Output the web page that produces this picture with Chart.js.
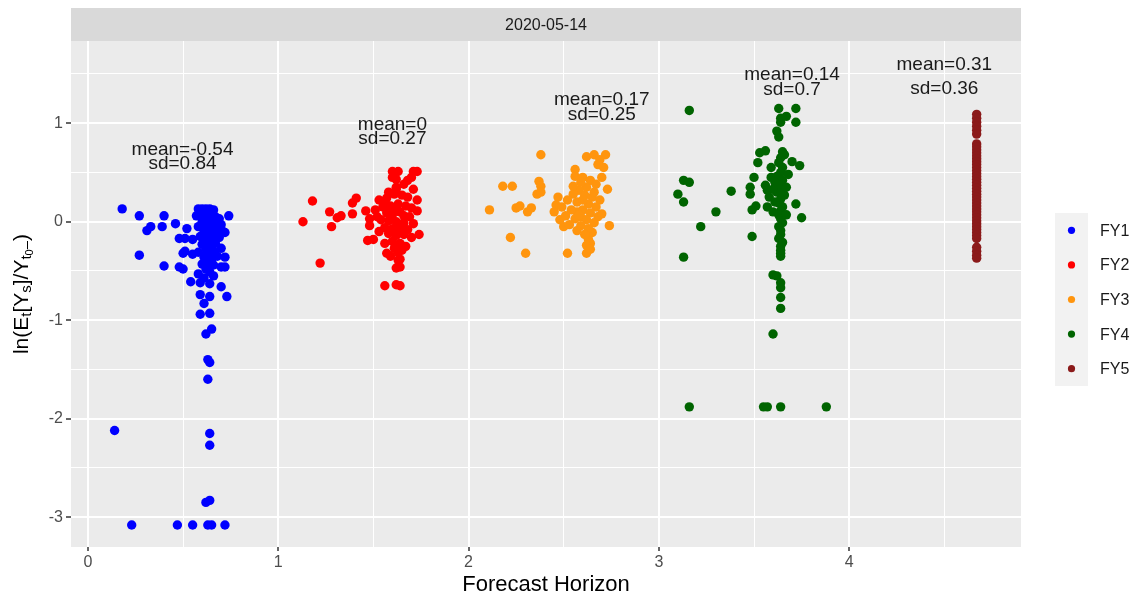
<!DOCTYPE html>
<html>
<head>
<meta charset="utf-8">
<script src="https://cdn.jsdelivr.net/npm/chart.js@4"></script>
<style>
html, body { margin: 0; padding: 0; background: #fff; }
</style>
</head>
<body>
<canvas id="chart" width="1137" height="598"></canvas>
<script>
// facet label and series names
var stripLabel = "2020-05-14";
var seriesNames = ["FY1", "FY2", "FY3", "FY4", "FY5"];
var seriesColors = ["#0000ff", "#ff0000", "#ff950e", "#006400", "#8b1a1a"];

// points: [forecast horizon, ln ratio]
var fy1Points = [
    [0.18,0.13],[0.27,0.06],[0.31,-0.09],[0.33,-0.05],[0.27,-0.34],[0.40,0.06],[0.39,-0.05],[0.46,-0.02],
    [0.40,-0.45],[0.48,-0.17],[0.50,-0.32],[0.48,-0.46],[0.52,-0.07],[0.51,-0.17],[0.55,-0.18],[0.51,-0.30],
    [0.55,-0.33],[0.50,-0.48],[0.74,0.06],[0.72,-0.11],[0.72,-0.36],[0.72,-0.46],
    [0.54,-0.61],[0.59,-0.62],[0.64,-0.63],[0.70,-0.66],[0.59,-0.74],[0.64,-0.76],[0.73,-0.76],[0.61,-0.83],
    [0.59,-0.94],[0.64,-0.93],[0.62,-1.14],[0.65,-1.09],[0.63,-1.40],[0.64,-1.43],[0.63,-1.60],[0.14,-2.12],
    [0.64,-2.15],[0.64,-2.27],[0.62,-2.85],[0.64,-2.83],[0.23,-3.08],[0.47,-3.08],[0.55,-3.08],[0.63,-3.08],
    [0.65,-3.08],[0.72,-3.08],
    [0.58,0.13],[0.60,0.13],[0.62,0.13],[0.64,0.13],[0.66,0.12],[0.59,0.10],[0.63,0.10],[0.65,0.08],
    [0.57,0.06],[0.61,0.05],[0.67,0.05],[0.69,0.03],[0.63,0.02],[0.60,0.00],[0.66,-0.01],[0.70,-0.03],
    [0.62,-0.04],[0.58,-0.05],[0.64,-0.07],[0.68,-0.08],[0.71,-0.10],[0.61,-0.10],[0.66,-0.12],[0.63,-0.14],
    [0.59,-0.15],[0.69,-0.16],[0.65,-0.18],[0.62,-0.20],[0.67,-0.22],[0.60,-0.23],[0.64,-0.25],[0.70,-0.27],
    [0.62,-0.28],[0.66,-0.30],[0.58,-0.31],[0.63,-0.33],[0.68,-0.35],[0.61,-0.36],[0.65,-0.38],[0.63,-0.41],
    [0.60,-0.43],[0.66,-0.44],[0.70,-0.46],[0.62,-0.48],[0.64,-0.51],[0.58,-0.53],[0.66,-0.55],[0.61,-0.57],
    [0.63,-0.20],[0.64,-0.45]
];
var fy2Points = [
    [1.13,0.00],[1.18,0.21],[1.22,-0.42],[1.27,0.10],[1.28,-0.05],[1.31,0.04],[1.33,0.06],[1.39,0.08],
    [1.39,0.19],[1.41,0.24],[1.46,0.11],[1.51,0.12],[1.48,0.03],[1.48,-0.04],[1.47,-0.19],[1.50,-0.18],
    [1.56,-0.22],[1.57,-0.32],[1.56,-0.65],[1.62,-0.64],[1.64,-0.65],[1.74,-0.13],[1.73,0.11],
    [1.60,0.51],[1.63,0.51],[1.71,0.51],[1.73,0.51],[1.62,0.43],[1.70,0.45],[1.62,0.35],[1.71,0.33],
    [1.53,0.22],[1.56,0.19],[1.63,-0.39],[1.64,-0.46],[1.62,-0.47],[1.63,-0.31],
    [1.58,0.30],[1.61,0.28],[1.65,0.27],[1.68,0.25],[1.55,0.15],[1.59,0.16],[1.63,0.18],[1.67,0.16],
    [1.70,0.14],[1.57,0.09],[1.60,0.07],[1.64,0.10],[1.66,0.06],[1.69,0.05],[1.54,0.02],[1.58,0.01],
    [1.62,0.00],[1.66,-0.01],[1.71,-0.02],[1.56,-0.06],[1.60,-0.07],[1.64,-0.05],[1.68,-0.08],[1.53,-0.10],
    [1.58,-0.12],[1.62,-0.14],[1.66,-0.13],[1.70,-0.16],[1.60,-0.20],[1.64,-0.22],[1.67,-0.25],[1.61,-0.27],
    [1.65,-0.29],[1.59,-0.35],[1.64,-0.38],[1.62,0.33],[1.66,0.38],[1.60,0.45],[1.68,0.42],[1.57,0.24],
    [1.73,0.22],[1.52,0.05],[1.63,-0.10],[1.61,0.12]
];
var fy3Points = [
    [2.11,0.12],[2.18,0.36],[2.23,0.36],[2.22,-0.16],[2.25,0.14],[2.27,0.16],[2.30,-0.32],[2.31,0.10],
    [2.33,0.14],[2.38,0.68],[2.37,0.41],[2.38,0.36],[2.36,0.28],[2.38,0.30],[2.46,0.17],[2.45,0.10],
    [2.50,-0.05],[2.48,0.02],[2.52,-0.32],[2.62,-0.32],[2.63,-0.18],[2.64,-0.22],[2.74,-0.04],[2.73,0.33],
    [2.62,0.66],[2.66,0.68],[2.72,0.68],[2.69,0.63],[2.71,0.55],[2.56,0.53],[2.56,0.46],[2.68,0.05],
    [2.57,0.10],[2.59,0.05],[2.65,-0.11],
    [2.60,0.45],[2.64,0.42],[2.67,0.38],[2.62,0.35],[2.58,0.32],[2.55,0.28],[2.61,0.27],[2.65,0.25],
    [2.69,0.22],[2.52,0.22],[2.57,0.20],[2.63,0.18],[2.67,0.15],[2.49,0.15],[2.54,0.12],[2.60,0.12],
    [2.64,0.09],[2.70,0.08],[2.51,0.06],[2.56,0.03],[2.62,0.02],[2.66,-0.01],[2.53,-0.03],[2.59,-0.04],
    [2.63,-0.07],[2.57,-0.09],[2.61,-0.13],[2.66,0.30],[2.70,0.45],[2.68,0.58],[2.59,0.40],[2.47,0.25],
    [2.55,0.36],[2.62,-0.24],[2.64,-0.28],[2.60,0.22],[2.58,0.07]
];
var fy4Points = [
    [3.16,1.13],[3.13,0.42],[3.16,0.40],[3.10,0.28],[3.13,0.20],[3.13,-0.36],[3.22,-0.05],[3.30,0.10],
    [3.38,0.31],[3.49,-0.15],[3.48,0.35],[3.48,0.28],[3.49,0.12],[3.51,0.16],[3.50,0.45],[3.52,0.60],
    [3.53,0.70],[3.56,0.72],[3.57,0.15],[3.56,0.37],[3.57,0.32],[3.59,0.45],
    [3.63,1.15],[3.64,1.05],[3.64,1.01],[3.67,1.07],[3.72,1.15],[3.72,1.01],[3.62,0.92],[3.63,0.86],
    [3.65,0.71],[3.66,0.68],[3.70,0.61],[3.74,0.57],[3.72,0.18],[3.75,0.04],
    [3.64,-0.32],[3.64,-0.35],[3.60,-0.54],[3.62,-0.55],[3.64,-0.62],[3.64,-0.67],[3.64,-0.77],[3.64,-0.88],
    [3.60,-1.14],[3.16,-1.88],[3.55,-1.88],[3.57,-1.88],[3.64,-1.88],[3.88,-1.88],
    [3.64,0.65],[3.63,0.60],[3.65,0.55],[3.64,0.50],[3.62,0.46],[3.65,0.42],[3.63,0.38],[3.64,0.34],
    [3.62,0.30],[3.66,0.27],[3.64,0.23],[3.63,0.19],[3.65,0.15],[3.64,0.11],[3.63,0.07],[3.64,0.03],
    [3.65,-0.01],[3.63,-0.05],[3.64,-0.09],[3.64,-0.13],[3.63,-0.17],[3.65,-0.21],[3.64,-0.25],[3.64,-0.29],
    [3.61,0.40],[3.60,0.33],[3.58,0.25],[3.61,0.20],[3.67,0.35],[3.68,0.48],[3.60,0.10],[3.67,0.07],
    [3.59,0.55]
];
var fy5Points = [
    [4.67,1.09],[4.67,1.05],[4.67,1.01],[4.67,0.97],[4.67,0.93],[4.67,0.89],[4.67,0.79],[4.67,0.76],
    [4.67,0.73],[4.67,0.70],[4.67,0.67],[4.67,0.64],[4.67,0.61],[4.67,0.58],[4.67,0.55],[4.67,0.52],
    [4.67,0.49],[4.67,0.46],[4.67,0.43],[4.67,0.40],[4.67,0.37],[4.67,0.34],[4.67,0.31],[4.67,0.28],
    [4.67,0.25],[4.67,0.22],[4.67,0.19],[4.67,0.16],[4.67,0.13],[4.67,0.10],[4.67,0.07],[4.67,0.04],
    [4.67,0.01],[4.67,-0.02],[4.67,-0.05],[4.67,-0.08],[4.67,-0.11],[4.67,-0.14],[4.67,-0.17],[4.67,-0.26],
    [4.67,-0.30],[4.67,-0.34],[4.67,-0.37]
];
var allPoints = [fy1Points, fy2Points, fy3Points, fy4Points, fy5Points];

// mean / sd text labels
var statMeans = ["-0.54", "0", "0.17", "0.14", "0.31"];
var statSds = ["0.84", "0.27", "0.25", "0.7", "0.36"];
var statX = [0.497, 1.60, 2.70, 3.70, 4.50];
var statMeanY = [0.728, 0.98, 1.236, 1.49, 1.59];
var statSdY = [0.586, 0.84, 1.083, 1.337, 1.347];

// ticks: majors get labels, halves are minor grid lines
var xTicks = [0, 0.5, 1, 1.5, 2, 2.5, 3, 3.5, 4, 4.5];
var yTicks = [-3, -2.5, -2, -1.5, -1, -0.5, 0, 0.5, 1, 1.5];

var FONT = '"Liberation Sans", Arial, sans-serif';
Chart.defaults.font.family = FONT;

function isMajor(v) {
    return Math.abs(v - Math.round(v)) < 1e-9;
}

var datasets = [];
for (var i = 0; i < allPoints.length; i++) {
    datasets.push({
        label: seriesNames[i],
        data: allPoints[i].map(function (p) { return { x: p[0], y: p[1] }; }),
        backgroundColor: seriesColors[i],
        pointRadius: 4.7,
        pointBorderWidth: 0,
        pointHoverRadius: 4.7
    });
}

function drawYTitle(ctx, cx, cy) {
    var parts = [["ln(E", 0], ["t", 1], ["[Y", 0], ["s", 1], ["]/Y", 0], ["t", 1], ["0", 2], ["\u2013", 1], [")", 0]];
    var sizes = [21, 15, 11];
    var shifts = [0, 5, 8];
    var total = 0, widths = [];
    for (var i = 0; i < parts.length; i++) {
        ctx.font = sizes[parts[i][1]] + "px " + FONT;
        var w = ctx.measureText(parts[i][0]).width;
        widths.push(w);
        total += w;
    }
    ctx.save();
    ctx.translate(cx, cy);
    ctx.rotate(-Math.PI / 2);
    ctx.fillStyle = "#000";
    ctx.textBaseline = "middle";
    ctx.textAlign = "left";
    var pos = -total / 2;
    for (var j = 0; j < parts.length; j++) {
        ctx.font = sizes[parts[j][1]] + "px " + FONT;
        ctx.fillText(parts[j][0], pos, shifts[parts[j][1]]);
        pos += widths[j];
    }
    ctx.restore();
}

var ggPlugin = {
    id: "gg",
    beforeDraw: function (chart) {
        var ctx = chart.ctx, a = chart.chartArea;
        ctx.save();
        ctx.fillStyle = "#ffffff";
        ctx.fillRect(0, 0, chart.width, chart.height);
        ctx.fillStyle = "#ebebeb";
        ctx.fillRect(a.left, a.top, a.right - a.left, a.bottom - a.top);
        ctx.fillStyle = "#d9d9d9";
        ctx.fillRect(a.left, 8, a.right - a.left, a.top - 8);
        ctx.fillStyle = "#1a1a1a";
        ctx.font = "16px " + FONT;
        ctx.textAlign = "center";
        ctx.textBaseline = "middle";
        ctx.fillText(stripLabel, (a.left + a.right) / 2, (8 + a.top) / 2 + 1);
        ctx.restore();
    },
    afterDatasetsDraw: function (chart) {
        var ctx = chart.ctx, sx = chart.scales.x, sy = chart.scales.y;
        ctx.save();
        ctx.fillStyle = "#1a1a1a";
        ctx.font = "19px " + FONT;
        ctx.textAlign = "center";
        ctx.textBaseline = "middle";
        for (var i = 0; i < statX.length; i++) {
            var px = sx.getPixelForValue(statX[i]);
            ctx.fillText("mean=" + statMeans[i], px, sy.getPixelForValue(statMeanY[i]));
            ctx.fillText("sd=" + statSds[i], px, sy.getPixelForValue(statSdY[i]));
        }
        ctx.restore();
    },
    afterDraw: function (chart) {
        var ctx = chart.ctx, a = chart.chartArea;
        // legend
        var keyLeft = 1055, keyTop = 213, keyStep = 34.6;
        ctx.save();
        ctx.fillStyle = "#f2f2f2";
        ctx.fillRect(keyLeft, keyTop, 33, keyStep * seriesNames.length);
        ctx.font = "16px " + FONT;
        ctx.textAlign = "left";
        ctx.textBaseline = "middle";
        for (var i = 0; i < seriesNames.length; i++) {
            var cy = keyTop + keyStep * (i + 0.5);
            ctx.fillStyle = seriesColors[i];
            ctx.beginPath();
            ctx.arc(keyLeft + 16.5, cy, 3.6, 0, Math.PI * 2);
            ctx.fill();
            ctx.fillStyle = "#1a1a1a";
            ctx.fillText(seriesNames[i], 1100, cy + 1);
        }
        ctx.restore();
        drawYTitle(ctx, 22, (a.top + a.bottom) / 2);
    }
};

function gridColor() { return "#ffffff"; }
function gridWidth(c) { return c.tick && isMajor(c.tick.value) ? 2 : 1; }
function tickMarkColor(c) { return c.tick && isMajor(c.tick.value) ? "#333333" : "rgba(0,0,0,0)"; }

var ctx = document.getElementById("chart").getContext("2d");
var myChart = new Chart(ctx, {
    type: "scatter",
    data: { datasets: datasets },
    plugins: [ggPlugin],
    options: {
        responsive: false,
        animation: false,
        layout: { padding: { left: 0, right: 116, top: 41, bottom: 0 } },
        plugins: {
            legend: { display: false },
            tooltip: { enabled: false },
            title: { display: false }
        },
        scales: {
            x: {
                type: "linear",
                min: -0.089,
                max: 4.903,
                afterBuildTicks: function (axis) {
                    axis.ticks = xTicks.map(function (v) { return { value: v }; });
                },
                afterFit: function (axis) { axis.height = 51; },
                border: { display: false },
                grid: {
                    color: gridColor,
                    lineWidth: gridWidth,
                    drawTicks: true,
                    tickLength: 4,
                    tickWidth: 1.5,
                    tickColor: tickMarkColor
                },
                ticks: {
                    color: "#4d4d4d",
                    font: { size: 16 },
                    padding: 2,
                    maxRotation: 0,
                    autoSkip: false,
                    callback: function (v) { return isMajor(v) ? String(Math.round(v)) : ""; }
                },
                title: {
                    display: true,
                    text: "Forecast Horizon",
                    color: "#000000",
                    font: { size: 22 },
                    padding: { top: 0, bottom: 0 }
                }
            },
            y: {
                type: "linear",
                min: -3.303,
                max: 1.835,
                afterBuildTicks: function (axis) {
                    axis.ticks = yTicks.map(function (v) { return { value: v }; });
                },
                afterFit: function (axis) { axis.width = 71; },
                border: { display: false },
                grid: {
                    color: gridColor,
                    lineWidth: gridWidth,
                    drawTicks: true,
                    tickLength: 5,
                    tickWidth: 1.5,
                    tickColor: tickMarkColor
                },
                ticks: {
                    color: "#4d4d4d",
                    font: { size: 16 },
                    padding: 3,
                    autoSkip: false,
                    callback: function (v) { return isMajor(v) ? String(Math.round(v)) : ""; }
                }
            }
        }
    }
});
</script>
</body>
</html>
